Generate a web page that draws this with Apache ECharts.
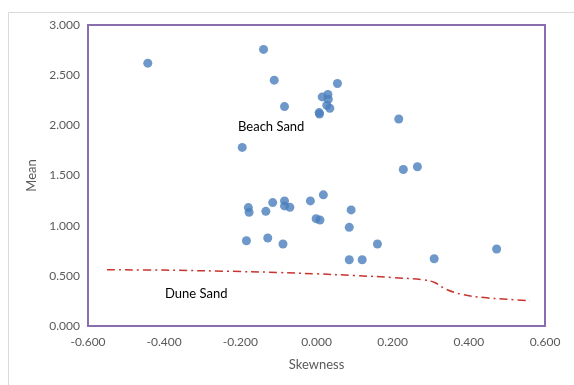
<!DOCTYPE html>
<html>
<head>
<meta charset="utf-8">
<script src="https://cdn.jsdelivr.net/npm/echarts@6/dist/echarts.min.js"></script>
<style>
  html, body { margin: 0; padding: 0; background: #fff; }
  #chart { width: 574px; height: 385px; }
</style>
</head>
<body>
<div id="chart"></div>
<script>
// Sample statistics: skewness (x) vs. mean grain size (y)
const skewness = [-0.443, -0.139, -0.111, -0.084, 0.055, 0.015, 0.030, 0.031, 0.027, 0.035,
  0.007, 0.008, 0.216, -0.195, 0.228, 0.265, 0.018, -0.016, -0.084, -0.084,
  -0.070, -0.115, -0.179, -0.177, -0.133, -0.001, 0.009, 0.091, 0.086, -0.184,
  -0.128, -0.088, 0.160, 0.086, 0.120, 0.309, 0.473];
const mean = [2.62, 2.757, 2.45, 2.187, 2.417, 2.283, 2.307, 2.26, 2.20, 2.17,
  2.127, 2.113, 2.063, 1.78, 1.56, 1.587, 1.307, 1.247, 1.247, 1.197,
  1.183, 1.23, 1.18, 1.133, 1.143, 1.07, 1.057, 1.157, 0.983, 0.85,
  0.877, 0.817, 0.817, 0.66, 0.66, 0.67, 0.767];

// Beach / dune separation line
const boundaryX = [-0.55, -0.40, -0.20, -0.10, 0.00, 0.10, 0.20, 0.28, 0.31, 0.34, 0.38, 0.44, 0.50, 0.56];
const boundaryY = [0.560, 0.557, 0.543, 0.533, 0.520, 0.503, 0.483, 0.460, 0.433, 0.367, 0.317, 0.283, 0.267, 0.253];

const xTicks = { min: -0.6, max: 0.6, interval: 0.2 };
const yTicks = { min: 0, max: 3, interval: 0.5 };

const points = skewness.map((s, i) => [s, mean[i]]);
const boundary = boundaryX.map((s, i) => [s, boundaryY[i]]);

const font = 'Lato, "Open Sans", sans-serif';
const chart = echarts.init(document.getElementById('chart'), null, { renderer: 'canvas' });

chart.setOption({
  animation: false,
  backgroundColor: '#ffffff',
  grid: {
    left: 88, right: 29, top: 25, bottom: 59,
    show: true, borderColor: '#8A6DAE', borderWidth: 2, backgroundColor: 'transparent'
  },
  xAxis: {
    type: 'value',
    min: xTicks.min, max: xTicks.max, interval: xTicks.interval,
    name: 'Skewness', nameLocation: 'middle', nameGap: 32,
    nameTextStyle: { color: '#595959', fontSize: 13, fontFamily: font },
    axisLine: { show: false }, axisTick: { show: false }, splitLine: { show: false },
    axisLabel: { color: '#595959', fontSize: 12, fontFamily: font, margin: 10,
      formatter: v => v.toFixed(3) }
  },
  yAxis: {
    type: 'value',
    min: yTicks.min, max: yTicks.max, interval: yTicks.interval,
    name: 'Mean', nameLocation: 'middle', nameGap: 50, nameRotate: 90,
    nameTextStyle: { color: '#595959', fontSize: 13, fontFamily: font },
    axisLine: { show: false }, axisTick: { show: false }, splitLine: { show: false },
    axisLabel: { color: '#595959', fontSize: 12, fontFamily: font, margin: 8,
      formatter: v => v.toFixed(3) }
  },
  graphic: [
    { type: 'rect', left: 6, top: 10, shape: { width: 600, height: 400 },
      style: { fill: 'none', stroke: '#d9d9d9', lineWidth: 1 }, silent: true, z: -1 },
    { type: 'text', left: 238, top: 120,
      style: { text: 'Beach Sand', fill: '#000', font: '13px ' + font } },
    { type: 'text', left: 165, top: 287,
      style: { text: 'Dune Sand', fill: '#000', font: '13px ' + font } }
  ],
  series: [
    {
      type: 'line', data: boundary, smooth: 0.4, symbol: 'none',
      lineStyle: { color: '#C8342E', width: 1.5, type: [8, 4, 2, 4] }, z: 2
    },
    {
      type: 'scatter', data: points, symbol: 'circle', symbolSize: 9,
      itemStyle: { color: '#4A7EBB' }, z: 3
    }
  ]
});
</script>
</body>
</html>
